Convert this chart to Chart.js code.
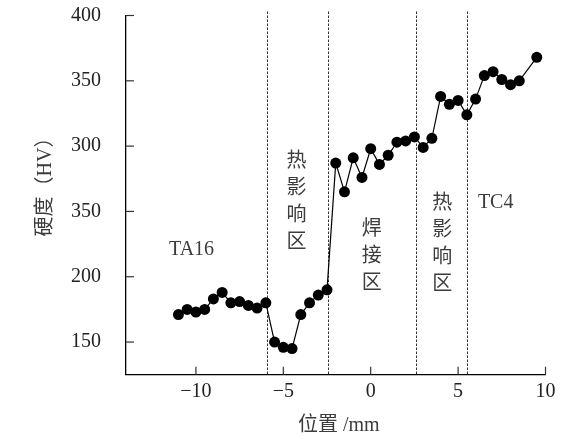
<!DOCTYPE html>
<html><head><meta charset="utf-8">
<script src="https://cdn.jsdelivr.net/npm/chart.js@4"></script>
<style>html,body{margin:0;padding:0;background:#fff}canvas{display:block}</style>
</head><body>
<canvas id="c" width="563" height="439"></canvas>
<script>
const positions = [-11,-10.5,-10,-9.5,-9,-8.5,-8,-7.5,-7,-6.5,-6,-5.5,-5,-4.5,-4,-3.5,-3,-2.5,-2,-1.5,-1,-0.5,0,0.5,1,1.5,2,2.5,3,3.5,4,4.5,5,5.5,6,6.5,7,7.5,8,8.5,9.5];
const hardness  = [171,175,173,175,183,188,180,181,178,176,180,150,146,145,171,180,186,190,287,265,291,276,298,286,293,303,304,307,299,306,338,332,335,324,336,354,357,351,347,350,368];
const xTickValues = [-10,-5,0,5,10];
const xTickLabels = ['\u221210','\u22125','0','5','10'];
const yTickValues = [150,200,250,300,350,400];
const yTickLabels = ['150','200','350','300','350','400'];
const boundaries = [-5.95,-2.46,2.57,5.5];
const zoneTexts = ['TA16','热影响区','焊接区','热影响区','TC4'];
const zoneX = [-10.25,-4.24,0.06,4.10,7.15];
const zoneY = [220.4,288.1,235.8,256.2,257];
const zoneVertical = [false,true,true,true,false];
const xTitle = '位置 /mm';
const yTitle = '硬度（HV）';

const FONT = "'Liberation Serif', 'Noto Sans CJK SC', serif";

const decor = {
  id: 'decor',
  beforeDatasetsDraw(chart) {
    const {ctx, chartArea: a, scales: {x, y}} = chart;
    ctx.save();
    ctx.strokeStyle = '#333';
    ctx.lineWidth = 1;
    ctx.setLineDash([2.5, 1.5]);
    boundaries.forEach(b => {
      const px = Math.round(x.getPixelForValue(b)) + 0.5;
      ctx.beginPath();
      ctx.moveTo(px, a.top - 4);
      ctx.lineTo(px, a.bottom);
      ctx.stroke();
    });
    ctx.setLineDash([]);
    ctx.strokeStyle = '#333';
    ctx.lineWidth = 1.2;
    xTickValues.forEach(v => {
      const px = x.getPixelForValue(v);
      ctx.beginPath(); ctx.moveTo(px, a.bottom); ctx.lineTo(px, a.bottom - 8); ctx.stroke();
    });
    yTickValues.forEach(v => {
      const py = y.getPixelForValue(v);
      ctx.beginPath(); ctx.moveTo(a.left, py); ctx.lineTo(a.left + 8, py); ctx.stroke();
    });
    ctx.fillStyle = '#3c3c3c';
    ctx.font = '20px ' + FONT;
    ctx.textAlign = 'center';
    ctx.textBaseline = 'middle';
    zoneTexts.forEach((t, i) => {
      const px = x.getPixelForValue(zoneX[i]);
      const py = y.getPixelForValue(zoneY[i]);
      if (zoneVertical[i]) {
        [...t].forEach((ch, k) => ctx.fillText(ch, px, py + k * 27));
      } else {
        ctx.fillText(t, px, py);
      }
    });
    ctx.fillText(xTitle, (a.left + a.right) / 2 + 3, 426);
    ctx.translate(46, 182);
    ctx.rotate(-Math.PI / 2);
    ctx.fillText(yTitle, 0, 0);
    ctx.restore();
  }
};

new Chart(document.getElementById('c'), {
  type: 'line',
  data: {
    datasets: [{
      data: positions.map((p, i) => ({x: p, y: hardness[i]})),
      borderColor: '#000',
      borderWidth: 1.2,
      pointRadius: 5.5,
      pointBackgroundColor: '#000',
      pointBorderWidth: 0,
      tension: 0,
      clip: false
    }]
  },
  options: {
    responsive: false,
    animation: false,
    layout: {padding: {top: 15.5, right: 17.5, left: 0, bottom: 0}},
    plugins: {legend: {display: false}, tooltip: {enabled: false}},
    scales: {
      x: {
        type: 'linear', min: -14, max: 10,
        afterBuildTicks: s => { s.ticks = xTickValues.map(v => ({value: v})); },
        afterFit: s => { s.height = 64.3; s.paddingLeft = 0; s.paddingRight = 0; },
        ticks: {callback: (v, i) => xTickLabels[i], padding: 5, autoSkip: false, maxRotation: 0,
                font: {family: FONT, size: 20}, color: '#222'},
        grid: {display: false, drawTicks: false},
        border: {display: true, color: '#000', width: 1.3}
      },
      y: {
        type: 'linear', min: 125, max: 400,
        afterBuildTicks: s => { s.ticks = yTickValues.map(v => ({value: v})); },
        afterFit: s => { s.width = 126; s.paddingTop = 0; s.paddingBottom = 0; },
        ticks: {callback: (v, i) => yTickLabels[i], padding: 25, autoSkip: false,
                font: {family: FONT, size: 20}, color: '#222'},
        grid: {display: false, drawTicks: false},
        border: {display: true, color: '#000', width: 1.3}
      }
    }
  },
  plugins: [decor]
});
</script>
</body></html>
